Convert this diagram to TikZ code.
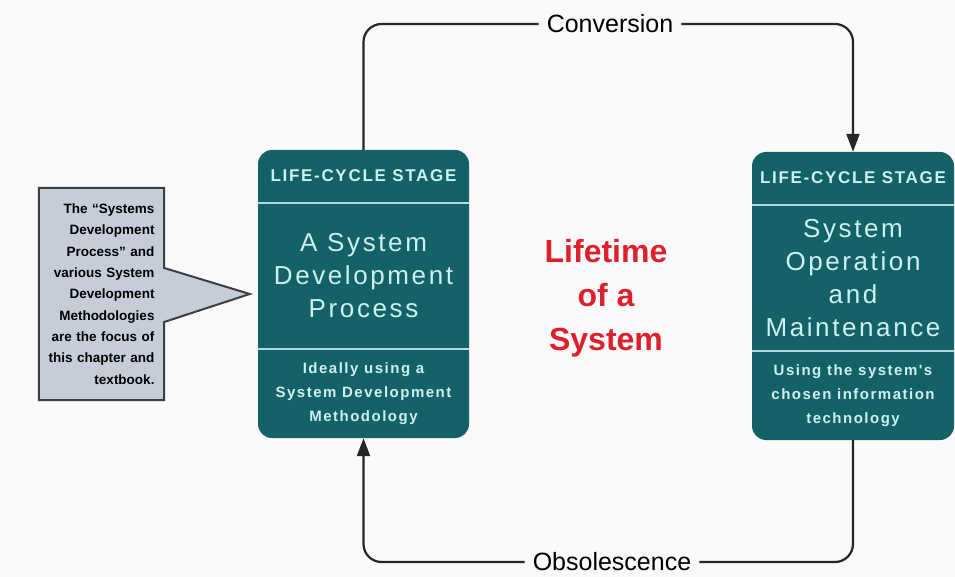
\documentclass[tikz,border=0pt]{standalone}
\usepackage{fontspec}
\setmainfont{Liberation Sans}
\newfontfamily\widefont[LetterSpace=10]{Liberation Sans}
\usetikzlibrary{arrows.meta}
\usetikzlibrary{positioning, backgrounds}

\definecolor{stageteal}{RGB}{20,98,104}
\definecolor{stagetext}{RGB}{205,240,240}
\definecolor{sepcol}{RGB}{175,215,220}
\definecolor{notefill}{RGB}{198,204,216}
\definecolor{noteline}{RGB}{60,62,66}
\definecolor{lifered}{RGB}{222,32,44}
\definecolor{paper}{RGB}{250,250,250}

\begin{document}
\begin{tikzpicture}[x=1pt, y=-1pt,
	stagebox/.style={rectangle, rounded corners=14pt, fill=stageteal, minimum width=211pt, minimum height=288pt},
	sepline/.style={draw=sepcol, line width=2pt},
	headtext/.style={text=stagetext, font=\widefont\bfseries\fontsize{17}{20}\selectfont},
	titletext/.style={text=stagetext, align=center, font=\widefont\fontsize{26}{33}\selectfont},
	usetext/.style={text=stagetext, align=center, font=\widefont\bfseries\fontsize{15}{24}\selectfont},
	cycleline/.style={draw=black!85, line width=2.2pt, rounded corners=18pt},
	cyclelabel/.style={fill=paper, inner xsep=8pt, inner ysep=1pt, font=\fontsize{25}{28}\selectfont},
	tip/.style={-{Triangle[length=18pt, width=13pt]}}]

	% --- Page ---
	\useasboundingbox (0,0) rectangle (955,577);

	% --- Stages ---
	\node[stagebox] (dev) at (363.5,294) {};
	\node[stagebox, minimum width=202pt] (ops) at (853,296) {};
	\foreach \b in {dev, ops} {
		\draw[sepline] ([yshift=-53]\b.north west) -- ([yshift=-53]\b.north east);
		\draw[sepline] ([yshift=-199]\b.north west) -- ([yshift=-199]\b.north east);
		\node[headtext] (\b head) at ([yshift=-26]\b.north) {LIFE-CYCLE STAGE};
	}
	\node[titletext] (devtitle) at ([yshift=-126]dev.north) {A System\\Development\\Process};
	\node[usetext] (devuse) at ([yshift=-244]dev.north) {Ideally using a\\System Development\\Methodology};
	\node[titletext] (opstitle) at ([yshift=-126]ops.north) {System\\Operation\\and\\Maintenance};
	\node[usetext] (opsuse) at ([yshift=-244]ops.north) {Using the system's\\chosen information\\technology};

	% --- Centre ---
	\node[text=lifered, align=center, font=\bfseries\fontsize{32}{44}\selectfont] (life) at (606,298) {Lifetime\\of a\\System};

	% --- Callout ---
	\node[minimum width=125pt, minimum height=212pt, text width=106pt, align=right, font=\bfseries\fontsize{13.5}{21.3}\selectfont] (note) at (101.5,294)
		{The “Systems\\Development\\Process” and\\various System\\Development\\Methodologies\\are the focus of\\this chapter and\\textbook.};
	\begin{scope}[on background layer]
		\fill[paper] (0,0) rectangle (955,577);
		\draw[fill=notefill, draw=noteline, line width=2pt, line join=miter]
			(note.north west) -- (note.north east) -- ([yshift=26]note.east) -- ([xshift=-8]dev.west)
			-- ([yshift=-28]note.east) -- (note.south east) -- (note.south west) -- cycle;
	\end{scope}

	% --- Cycle ---
	\node[cyclelabel] (conv) at (610,24) {Conversion};
	\draw[cycleline] (dev.north) |- (conv.west);
	\draw[cycleline, tip] (conv.east) -| (ops.north);

	\node[cyclelabel] (obs) at (612,562) {Obsolescence};
	\draw[cycleline] (ops.south) |- (obs.east);
	\draw[cycleline, tip] (obs.west) -| (dev.south);
\end{tikzpicture}
\end{document}
